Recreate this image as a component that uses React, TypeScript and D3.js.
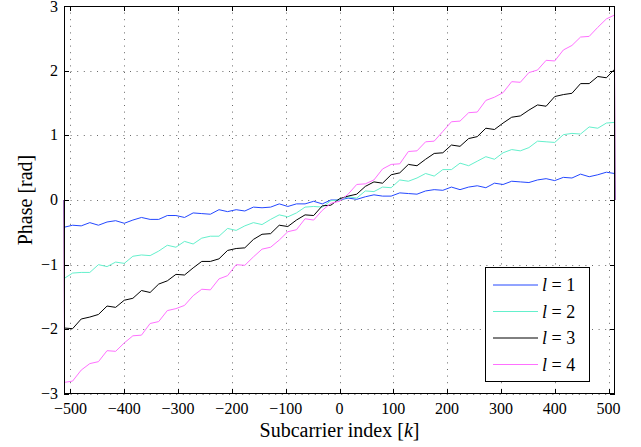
import React from "react";
import * as d3 from "d3";

const W = 641;
const H = 447;
const PLOT = { left: 64, right: 615, top: 6, bottom: 394 };

// subcarrier index grid (edge points, then every 16th subcarrier)
const subcarriers: number[] = [-512, -511, ...d3.range(-496, 497, 16), 511, 512];

const phaseL1 = [0,
  -0.42, -0.39, -0.40, -0.35, -0.39, -0.34, -0.32, -0.36, -0.31, -0.27,
  -0.30, -0.30, -0.24, -0.24, -0.27, -0.20, -0.21, -0.22, -0.15, -0.18,
  -0.15, -0.17, -0.11, -0.12, -0.11, -0.06, -0.10, -0.06, -0.06, -0.02,
  -0.06, 0.00, 0.00, 0.03, 0.01, 0.05, 0.08, 0.06, 0.06, 0.11,
  0.10, 0.09, 0.14, 0.16, 0.15, 0.20, 0.16, 0.20, 0.22, 0.19,
  0.26, 0.24, 0.29, 0.28, 0.27, 0.31, 0.33, 0.30, 0.35, 0.34,
  0.40, 0.36, 0.39, 0.43, 0.41,
  0];

const phaseL2 = [0,
  -1.21, -1.13, -1.12, -1.12, -1.00, -1.03, -0.96, -0.98, -0.87, -0.85,
  -0.86, -0.79, -0.70, -0.73, -0.64, -0.68, -0.59, -0.56, -0.56, -0.44,
  -0.47, -0.40, -0.35, -0.38, -0.30, -0.23, -0.26, -0.20, -0.11, -0.10,
  -0.11, -0.01, 0.00, 0.05, 0.03, 0.14, 0.13, 0.20, 0.19, 0.31,
  0.29, 0.34, 0.41, 0.37, 0.47, 0.47, 0.57, 0.53, 0.60, 0.67,
  0.63, 0.73, 0.78, 0.76, 0.81, 0.91, 0.90, 0.89, 1.01, 1.03,
  1.02, 1.13, 1.11, 1.19, 1.20,
  0];

const phaseL3 = [0,
  -1.98, -1.99, -1.84, -1.81, -1.77, -1.64, -1.66, -1.55, -1.52, -1.40,
  -1.43, -1.30, -1.25, -1.15, -1.16, -1.05, -0.95, -0.95, -0.91, -0.78,
  -0.75, -0.74, -0.61, -0.53, -0.52, -0.39, -0.41, -0.31, -0.23, -0.24,
  -0.09, -0.08, 0.02, 0.06, 0.09, 0.21, 0.28, 0.26, 0.39, 0.42,
  0.55, 0.53, 0.63, 0.72, 0.73, 0.85, 0.83, 0.95, 0.98, 1.11,
  1.09, 1.19, 1.28, 1.30, 1.39, 1.47, 1.45, 1.60, 1.63, 1.65,
  1.80, 1.80, 1.91, 1.89, 2.02,
  0];

const phaseL4 = [0,
  -2.82, -2.80, -2.63, -2.53, -2.50, -2.33, -2.34, -2.21, -2.10, -2.09,
  -1.91, -1.88, -1.71, -1.68, -1.63, -1.48, -1.38, -1.39, -1.22, -1.17,
  -1.00, -1.01, -0.88, -0.76, -0.73, -0.62, -0.49, -0.46, -0.29, -0.31,
  -0.16, -0.05, -0.02, 0.09, 0.24, 0.25, 0.31, 0.48, 0.55, 0.56,
  0.75, 0.76, 0.90, 0.91, 1.06, 1.21, 1.22, 1.35, 1.36, 1.54,
  1.59, 1.66, 1.83, 1.82, 1.97, 2.01, 2.16, 2.15, 2.32, 2.39,
  2.52, 2.53, 2.67, 2.80, 2.86,
  0];

const seriesLabels = ["1", "2", "3", "4"];
const seriesColors = ["#2448ff", "#64f0cc", "#000000", "#ff70ff"];
const seriesValues = [phaseL1, phaseL2, phaseL3, phaseL4];

const xTicks = [-500, -400, -300, -200, -100, 0, 100, 200, 300, 400, 500];
const yTicks = [-3, -2, -1, 0, 1, 2, 3];

const SERIF = '"Liberation Serif", "Times New Roman", "DejaVu Serif", serif';

const fmt = (v: number) => (v < 0 ? "\u2212" + Math.abs(v) : String(v));

export default function App() {
  const x = d3.scaleLinear().domain([-512, 512]).range([PLOT.left, PLOT.right]);
  const y = d3.scaleLinear().domain([-3, 3]).range([PLOT.bottom, PLOT.top]);
  const line = d3
    .line<number>()
    .x((_, i) => x(subcarriers[i]))
    .y((d) => y(d));

  const tickLen = 5;
  const legend = { x0: 485, y0: 267, w: 104, h: 114, rowY: [285, 311.5, 338, 364.5] };

  return (
    <svg
      width={W}
      height={H}
      style={{ position: "absolute", left: 0, top: 0, background: "#fff", fontFamily: SERIF }}
    >
      <rect x={0} y={0} width={W} height={H} fill="#fff" />
      {/* grid */}
      <g stroke="#444" strokeWidth={1} strokeDasharray="1,5.6" opacity={0.8}>
        {xTicks.map((t) => (
          <line key={"gx" + t} x1={Math.round(x(t)) + 0.5} x2={Math.round(x(t)) + 0.5} y1={PLOT.top} y2={PLOT.bottom} />
        ))}
        {yTicks.map((t) => (
          <line key={"gy" + t} x1={PLOT.left} x2={PLOT.right} y1={Math.round(y(t)) + 0.5} y2={Math.round(y(t)) + 0.5} />
        ))}
      </g>
      {/* series */}
      <g fill="none" strokeWidth={1}>
        {seriesValues.map((vals, si) => (
          <path key={"s" + si} d={line(vals) || ""} stroke={seriesColors[si]} />
        ))}
      </g>
      {/* box and ticks */}
      <g stroke="#000" strokeWidth={1} fill="none">
        <rect x={PLOT.left + 0.5} y={PLOT.top + 0.5} width={PLOT.right - PLOT.left - 1} height={PLOT.bottom - PLOT.top - 1} />
        {xTicks.map((t) => (
          <g key={"tx" + t}>
            <line x1={Math.round(x(t)) + 0.5} x2={Math.round(x(t)) + 0.5} y1={PLOT.bottom} y2={PLOT.bottom - tickLen} />
            <line x1={Math.round(x(t)) + 0.5} x2={Math.round(x(t)) + 0.5} y1={PLOT.top} y2={PLOT.top + tickLen} />
          </g>
        ))}
        {yTicks.map((t) => (
          <g key={"ty" + t}>
            <line x1={PLOT.left} x2={PLOT.left + tickLen} y1={Math.round(y(t)) + 0.5} y2={Math.round(y(t)) + 0.5} />
            <line x1={PLOT.right} x2={PLOT.right - tickLen} y1={Math.round(y(t)) + 0.5} y2={Math.round(y(t)) + 0.5} />
          </g>
        ))}
      </g>
      {/* tick labels */}
      <g fontSize={16} fill="#000" fontFamily={SERIF}>
        {xTicks.map((t) => (
          <text key={"lx" + t} x={x(t)} y={PLOT.bottom + 20} textAnchor="middle">
            {fmt(t)}
          </text>
        ))}
        {yTicks.map((t) => (
          <text key={"ly" + t} x={PLOT.left - 6} y={Math.max(y(t) + 5, 12)} textAnchor="end">
            {fmt(t)}
          </text>
        ))}
      </g>
      {/* axis labels */}
      <text x={(PLOT.left + PLOT.right) / 2} y={437} textAnchor="middle" fontSize={20} fontFamily={SERIF}>
        Subcarrier index [<tspan fontStyle="italic">k</tspan>]
      </text>
      <text transform={`translate(32, ${(PLOT.top + PLOT.bottom) / 2}) rotate(-90)`} textAnchor="middle" fontSize={20} fontFamily={SERIF}>
        Phase [rad]
      </text>
      {/* legend */}
      <g fontFamily={SERIF}>
        <rect x={legend.x0 + 0.5} y={legend.y0 + 0.5} width={legend.w} height={legend.h} fill="#fff" stroke="#000" strokeWidth={1} />
        {seriesLabels.map((lab, i) => (
          <g key={"lg" + i}>
            <line x1={legend.x0 + 8} x2={legend.x0 + 53} y1={legend.rowY[i]} y2={legend.rowY[i]} stroke={seriesColors[i]} strokeWidth={1} />
            <text x={legend.x0 + 57} y={legend.rowY[i] + 6} fontSize={18}>
              <tspan fontStyle="italic">l</tspan>
              {" = " + lab}
            </text>
          </g>
        ))}
      </g>
    </svg>
  );
}
